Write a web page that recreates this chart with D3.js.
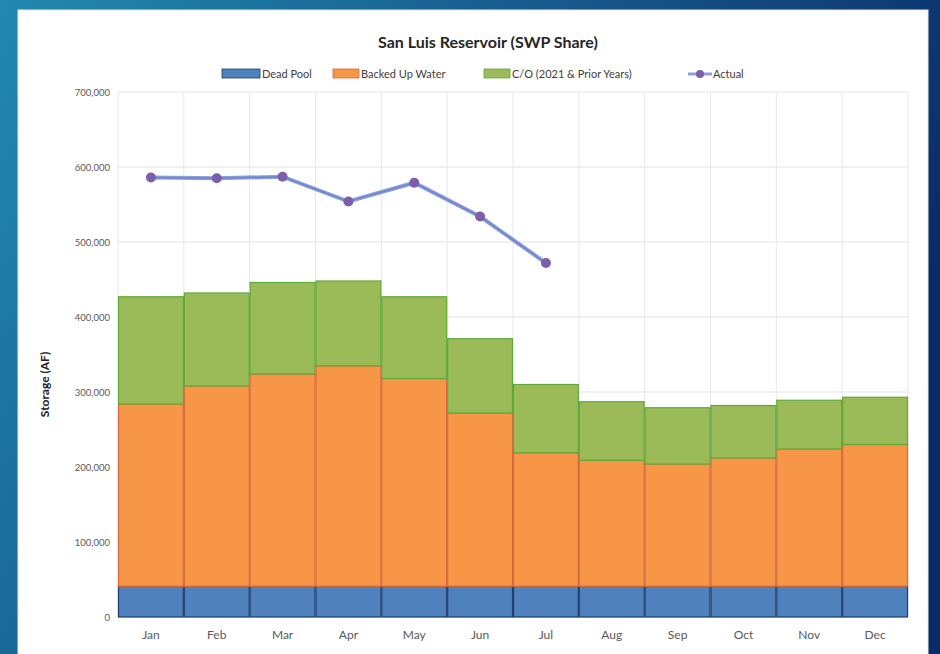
<!DOCTYPE html>
<html>
<head>
<meta charset="utf-8">
<script src="https://cdn.jsdelivr.net/npm/d3@7"></script>
<style>
  html, body { margin: 0; padding: 0; }
  body { width: 940px; height: 654px; overflow: hidden; }
  svg { display: block; font-family: Lato, "Open Sans", sans-serif; }
</style>
</head>
<body>
<div id="chart"></div>
<script>
const MONTHS = ["Jan", "Feb", "Mar", "Apr", "May", "Jun", "Jul", "Aug", "Sep", "Oct", "Nov", "Dec"];
// acre-feet
const DEAD_POOL = [41000, 41000, 41000, 41000, 41000, 41000, 41000, 41000, 41000, 41000, 41000, 41000];
const BACKED_UP = [243000, 267000, 283000, 294000, 277000, 231000, 178000, 168000, 163000, 171000, 183000, 189000];
const CARRYOVER = [143000, 124000, 122000, 113000, 109000, 99000, 91000, 78000, 75000, 70000, 65000, 63000];
const ACTUAL = [586000, 585000, 587000, 554000, 579000, 534000, 472000];
const Y_TICKS = [0, 100000, 200000, 300000, 400000, 500000, 600000, 700000];

const SERIES = [
  { key: "dead", label: "Dead Pool", fill: "#4f81bd", stroke: "#1f3f6e" },
  { key: "backed", label: "Backed Up Water", fill: "#f79646", stroke: "#d9693a" },
  { key: "co", label: "C/O (2021 & Prior Years)", fill: "#9bbb59", stroke: "#5fa83a" },
];

const W = 940, H = 654;
const plot = { left: 118, right: 908, top: 92, bottom: 617 };

const rows = MONTHS.map((m, i) => ({ month: m, dead: DEAD_POOL[i], backed: BACKED_UP[i], co: CARRYOVER[i] }));

const svg = d3.select("#chart").append("svg").attr("width", W).attr("height", H);

// slide background
const defs = svg.append("defs");
const bg = defs.append("linearGradient").attr("id", "bg").attr("x1", "0").attr("y1", "0").attr("x2", "1").attr("y2", "0.4");
bg.append("stop").attr("offset", "0").attr("stop-color", "#2289b0");
bg.append("stop").attr("offset", "0.5").attr("stop-color", "#175a8e");
bg.append("stop").attr("offset", "1").attr("stop-color", "#0b2a68");
svg.append("rect").attr("width", W).attr("height", H).attr("fill", "url(#bg)");

svg.append("rect")
  .attr("x", 18).attr("y", 10).attr("width", 910).attr("height", 650)
  .attr("fill", "#ffffff").attr("stroke", "#e6e6e6");

const x = d3.scaleBand().domain(MONTHS).range([plot.left, plot.right]).padding(0);
const y = d3.scaleLinear().domain([0, 700000]).range([plot.bottom, plot.top]);

// grid
const grid = svg.append("g");
grid.selectAll("line.h").data(Y_TICKS).join("line")
  .attr("x1", plot.left).attr("x2", plot.right)
  .attr("y1", (d) => y(d)).attr("y2", (d) => y(d))
  .attr("stroke", "#e3e3e3");
grid.selectAll("line.v").data(MONTHS.concat(["end"])).join("line")
  .attr("x1", (d, i) => plot.left + i * x.bandwidth())
  .attr("x2", (d, i) => plot.left + i * x.bandwidth())
  .attr("y1", plot.top).attr("y2", plot.bottom)
  .attr("stroke", "#e8e8e8");

// stacked bars
const stacked = d3.stack().keys(SERIES.map((s) => s.key))(rows);
const barLayer = svg.append("g");
stacked.forEach((layer, li) => {
  const s = SERIES[li];
  barLayer.append("g").selectAll("rect").data(layer).join("rect")
    .attr("x", (d) => x(d.data.month) + 0.5)
    .attr("width", x.bandwidth() - 1)
    .attr("y", (d) => y(d[1]))
    .attr("height", (d) => y(d[0]) - y(d[1]))
    .attr("fill", s.fill)
    .attr("stroke", s.stroke)
    .attr("stroke-width", 1.2);
});

// actual line
const line = d3.line()
  .x((d, i) => x(MONTHS[i]) + x.bandwidth() / 2)
  .y((d) => y(d));
svg.append("path").datum(ACTUAL)
  .attr("d", line).attr("fill", "none")
  .attr("stroke", "#8d9fda").attr("stroke-width", 4);
svg.append("path").datum(ACTUAL)
  .attr("d", line).attr("fill", "none")
  .attr("stroke", "#6f86cf").attr("stroke-width", 1.5);
svg.append("g").selectAll("circle").data(ACTUAL).join("circle")
  .attr("cx", (d, i) => x(MONTHS[i]) + x.bandwidth() / 2)
  .attr("cy", (d) => y(d))
  .attr("r", 5)
  .attr("fill", "#7b5fa9");

// axes
const yAxis = d3.axisLeft(y).tickValues(Y_TICKS).tickSize(0).tickPadding(8)
  .tickFormat((d) => d3.format(",")(d));
const yg = svg.append("g").attr("transform", `translate(${plot.left},0)`).call(yAxis);
yg.select(".domain").remove();
yg.selectAll("text").attr("font-size", 9.5).attr("fill", "#595959").attr("font-family", "Lato, sans-serif");

const xAxis = d3.axisBottom(x).tickSize(0).tickPadding(13);
const xg = svg.append("g").attr("transform", `translate(0,${plot.bottom})`).call(xAxis);
xg.select(".domain").remove();
xg.selectAll("text").attr("font-size", 12).attr("fill", "#595959").attr("font-family", "Lato, sans-serif");

svg.append("text")
  .attr("transform", `translate(49,${(plot.top + plot.bottom) / 2 + 30}) rotate(-90)`)
  .attr("text-anchor", "middle")
  .attr("font-size", 12).attr("font-weight", "bold").attr("fill", "#222")
  .text("Storage (AF)");

svg.append("text")
  .attr("x", 488).attr("y", 48)
  .attr("text-anchor", "middle")
  .attr("font-size", 16).attr("font-weight", "bold").attr("fill", "#262626")
  .text("San Luis Reservoir (SWP Share)");

// legend
const legendX = [222, 333, 484];
const lg = svg.append("g");
SERIES.forEach((s, i) => {
  lg.append("rect").attr("x", legendX[i]).attr("y", 69).attr("width", i === 0 ? 38 : 26).attr("height", 9)
    .attr("fill", s.fill).attr("stroke", s.stroke).attr("stroke-width", 0.8);
  lg.append("text").attr("x", legendX[i] + (i === 0 ? 40 : 28)).attr("y", 78)
    .attr("font-size", 11).attr("fill", "#404040").text(s.label);
});
lg.append("line").attr("x1", 688).attr("x2", 712).attr("y1", 74).attr("y2", 74)
  .attr("stroke", "#8d9fda").attr("stroke-width", 3);
lg.append("circle").attr("cx", 700).attr("cy", 74).attr("r", 4).attr("fill", "#7b5fa9");
lg.append("text").attr("x", 713).attr("y", 78).attr("font-size", 11).attr("fill", "#404040").text("Actual");
</script>
</body>
</html>
